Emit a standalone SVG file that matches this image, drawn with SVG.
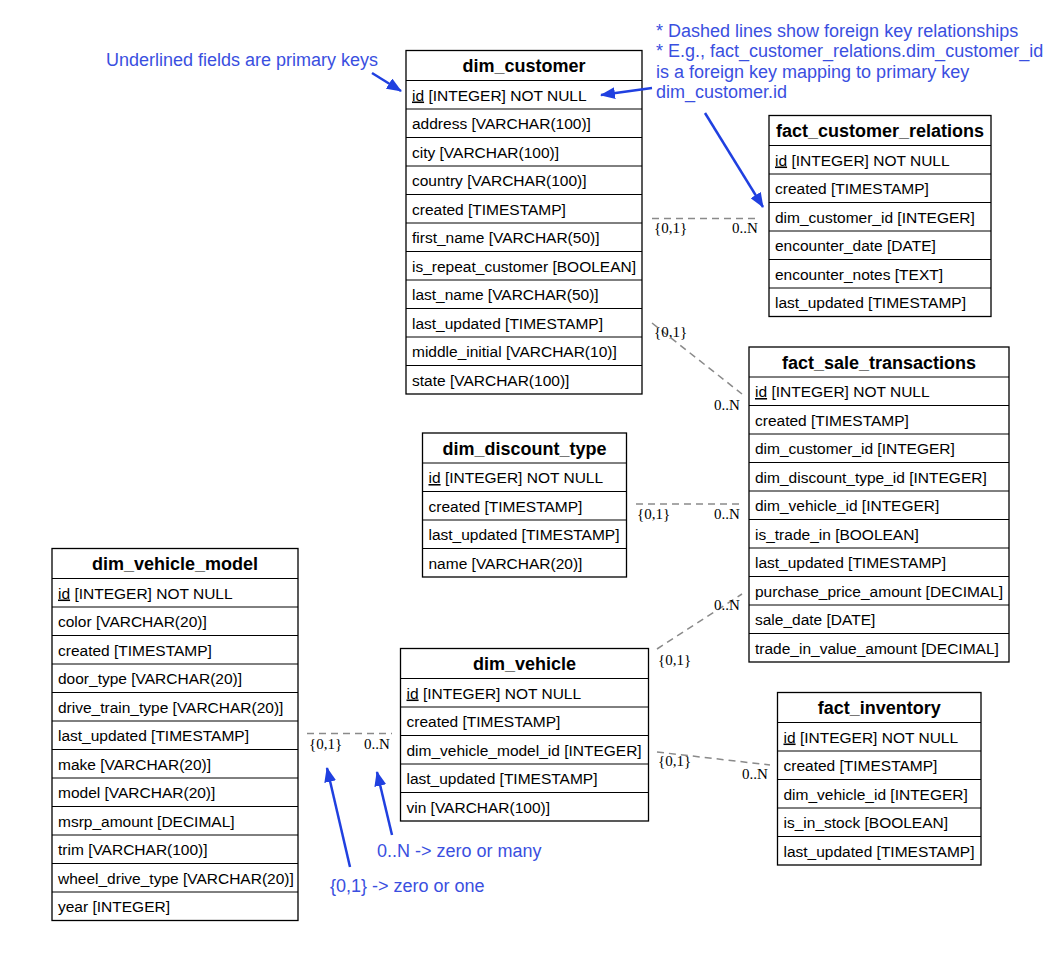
<svg xmlns="http://www.w3.org/2000/svg" width="1060" height="972" viewBox="0 0 1060 972">
<style>
.box{fill:#fff;stroke:#000;stroke-width:1.3}
.sep{stroke:#000;stroke-width:1}
.hdr{font-family:"Liberation Sans",Arial,sans-serif;font-size:18px;font-weight:bold;text-anchor:middle;fill:#000}
.row{font-family:"Liberation Sans",Arial,sans-serif;font-size:15.5px;fill:#000}
.pk{text-decoration:underline}
.fk{stroke:#8a8a8a;stroke-width:1.5;stroke-dasharray:7 5;fill:none}
.card{font-family:"Liberation Serif","Times New Roman",serif;font-size:15px;fill:#000}
.note{font-family:"Liberation Sans",Arial,sans-serif;font-size:18px;fill:#3a4fe0}
.arr{stroke:#2040e0;stroke-width:2.5;fill:none;marker-end:url(#ah)}
</style>
<defs>
<marker id="ah" markerUnits="userSpaceOnUse" markerWidth="16" markerHeight="12" refX="14" refY="6" orient="auto">
<path d="M0,0 L15,6 L0,12 Z" fill="#2040e0"/>
</marker>
</defs>
<rect width="1060" height="972" fill="#fff"/>

<g id="connectors">
<line class="fk" x1="652" y1="218.5" x2="757" y2="218.5"/>
<text class="card" x="654" y="233">{0,1}</text>
<text class="card" x="732" y="233">0..N</text>
<line class="fk" x1="652" y1="323" x2="742" y2="394"/>
<text class="card" x="654" y="337">{0,1}</text>
<text class="card" x="714" y="410">0..N</text>
<line class="fk" x1="636" y1="504" x2="741" y2="504"/>
<text class="card" x="637" y="519">{0,1}</text>
<text class="card" x="714" y="519">0..N</text>
<line class="fk" x1="657" y1="649" x2="742" y2="594"/>
<text class="card" x="658" y="665">{0,1}</text>
<text class="card" x="714" y="610">0..N</text>
<line class="fk" x1="657" y1="752" x2="770" y2="765"/>
<text class="card" x="658" y="766">{0,1}</text>
<text class="card" x="742" y="779">0..N</text>
<line class="fk" x1="307" y1="733.5" x2="392" y2="733.5"/>
<text class="card" x="309" y="749">{0,1}</text>
<text class="card" x="364" y="749">0..N</text>
</g>

<g id="dim_customer" transform="translate(406,50.5)">
<rect class="box" width="236" height="343.5"/>
<path class="sep" d="M0,30H236M0,58.5H236M0,87H236M0,115.5H236M0,144H236M0,172.5H236M0,201H236M0,229.5H236M0,258H236M0,286.5H236M0,315H236"/>
<text class="hdr" x="118" y="21.5">dim_customer</text>
<text class="row" x="6" y="50"><tspan class="pk">id</tspan> [INTEGER] NOT NULL</text>
<text class="row" x="6" y="78.5">address [VARCHAR(100)]</text>
<text class="row" x="6" y="107">city [VARCHAR(100)]</text>
<text class="row" x="6" y="135.5">country [VARCHAR(100)]</text>
<text class="row" x="6" y="164">created [TIMESTAMP]</text>
<text class="row" x="6" y="192.5">first_name [VARCHAR(50)]</text>
<text class="row" x="6" y="221">is_repeat_customer [BOOLEAN]</text>
<text class="row" x="6" y="249.5">last_name [VARCHAR(50)]</text>
<text class="row" x="6" y="278">last_updated [TIMESTAMP]</text>
<text class="row" x="6" y="306.5">middle_initial [VARCHAR(10)]</text>
<text class="row" x="6" y="335">state [VARCHAR(100)]</text>
</g>

<g id="fact_customer_relations" transform="translate(769,115.5)">
<rect class="box" width="222" height="201"/>
<path class="sep" d="M0,30H222M0,58.5H222M0,87H222M0,115.5H222M0,144H222M0,172.5H222"/>
<text class="hdr" x="111" y="21.5">fact_customer_relations</text>
<text class="row" x="6" y="50"><tspan class="pk">id</tspan> [INTEGER] NOT NULL</text>
<text class="row" x="6" y="78.5">created [TIMESTAMP]</text>
<text class="row" x="6" y="107">dim_customer_id [INTEGER]</text>
<text class="row" x="6" y="135.5">encounter_date [DATE]</text>
<text class="row" x="6" y="164">encounter_notes [TEXT]</text>
<text class="row" x="6" y="192.5">last_updated [TIMESTAMP]</text>
</g>

<g id="fact_sale_transactions" transform="translate(749,347)">
<rect class="box" width="260" height="315"/>
<path class="sep" d="M0,30H260M0,58.5H260M0,87H260M0,115.5H260M0,144H260M0,172.5H260M0,201H260M0,229.5H260M0,258H260M0,286.5H260"/>
<text class="hdr" x="130" y="21.5">fact_sale_transactions</text>
<text class="row" x="6" y="50"><tspan class="pk">id</tspan> [INTEGER] NOT NULL</text>
<text class="row" x="6" y="78.5">created [TIMESTAMP]</text>
<text class="row" x="6" y="107">dim_customer_id [INTEGER]</text>
<text class="row" x="6" y="135.5">dim_discount_type_id [INTEGER]</text>
<text class="row" x="6" y="164">dim_vehicle_id [INTEGER]</text>
<text class="row" x="6" y="192.5">is_trade_in [BOOLEAN]</text>
<text class="row" x="6" y="221">last_updated [TIMESTAMP]</text>
<text class="row" x="6" y="249.5">purchase_price_amount [DECIMAL]</text>
<text class="row" x="6" y="278">sale_date [DATE]</text>
<text class="row" x="6" y="306.5">trade_in_value_amount [DECIMAL]</text>
</g>

<g id="dim_discount_type" transform="translate(422.5,433)">
<rect class="box" width="204" height="144"/>
<path class="sep" d="M0,30H204M0,58.5H204M0,87H204M0,115.5H204"/>
<text class="hdr" x="102" y="21.5">dim_discount_type</text>
<text class="row" x="6" y="50"><tspan class="pk">id</tspan> [INTEGER] NOT NULL</text>
<text class="row" x="6" y="78.5">created [TIMESTAMP]</text>
<text class="row" x="6" y="107">last_updated [TIMESTAMP]</text>
<text class="row" x="6" y="135.5">name [VARCHAR(20)]</text>
</g>

<g id="dim_vehicle_model" transform="translate(52,548.5)">
<rect class="box" width="246" height="372"/>
<path class="sep" d="M0,30H246M0,58.5H246M0,87H246M0,115.5H246M0,144H246M0,172.5H246M0,201H246M0,229.5H246M0,258H246M0,286.5H246M0,315H246M0,343.5H246"/>
<text class="hdr" x="123" y="21.5">dim_vehicle_model</text>
<text class="row" x="6" y="50"><tspan class="pk">id</tspan> [INTEGER] NOT NULL</text>
<text class="row" x="6" y="78.5">color [VARCHAR(20)]</text>
<text class="row" x="6" y="107">created [TIMESTAMP]</text>
<text class="row" x="6" y="135.5">door_type [VARCHAR(20)]</text>
<text class="row" x="6" y="164">drive_train_type [VARCHAR(20)]</text>
<text class="row" x="6" y="192.5">last_updated [TIMESTAMP]</text>
<text class="row" x="6" y="221">make [VARCHAR(20)]</text>
<text class="row" x="6" y="249.5">model [VARCHAR(20)]</text>
<text class="row" x="6" y="278">msrp_amount [DECIMAL]</text>
<text class="row" x="6" y="306.5">trim [VARCHAR(100)]</text>
<text class="row" x="6" y="335">wheel_drive_type [VARCHAR(20)]</text>
<text class="row" x="6" y="363.5">year [INTEGER]</text>
</g>

<g id="dim_vehicle" transform="translate(400.5,648.5)">
<rect class="box" width="248" height="172.5"/>
<path class="sep" d="M0,30H248M0,58.5H248M0,87H248M0,115.5H248M0,144H248"/>
<text class="hdr" x="124" y="21.5">dim_vehicle</text>
<text class="row" x="6" y="50"><tspan class="pk">id</tspan> [INTEGER] NOT NULL</text>
<text class="row" x="6" y="78.5">created [TIMESTAMP]</text>
<text class="row" x="6" y="107">dim_vehicle_model_id [INTEGER]</text>
<text class="row" x="6" y="135.5">last_updated [TIMESTAMP]</text>
<text class="row" x="6" y="164">vin [VARCHAR(100)]</text>
</g>

<g id="fact_inventory" transform="translate(777.5,692.5)">
<rect class="box" width="203.5" height="172.5"/>
<path class="sep" d="M0,30H203.5M0,58.5H203.5M0,87H203.5M0,115.5H203.5M0,144H203.5"/>
<text class="hdr" x="101.75" y="21.5">fact_inventory</text>
<text class="row" x="6" y="50"><tspan class="pk">id</tspan> [INTEGER] NOT NULL</text>
<text class="row" x="6" y="78.5">created [TIMESTAMP]</text>
<text class="row" x="6" y="107">dim_vehicle_id [INTEGER]</text>
<text class="row" x="6" y="135.5">is_in_stock [BOOLEAN]</text>
<text class="row" x="6" y="164">last_updated [TIMESTAMP]</text>
</g>

<g id="annotations">
<text class="note" x="106" y="66">Underlined fields are primary keys</text>
<line class="arr" x1="372" y1="73" x2="401" y2="91"/>
<text class="note" x="656" y="37">* Dashed lines show foreign key relationships</text>
<text class="note" x="656" y="57.3">* E.g., fact_customer_relations.dim_customer_id</text>
<text class="note" x="656" y="77.6">is a foreign key mapping to primary key</text>
<text class="note" x="656" y="97.9">dim_customer.id</text>
<line class="arr" x1="652" y1="88" x2="601" y2="95"/>
<line class="arr" x1="705" y1="113" x2="763" y2="207"/>
<text class="note" x="377" y="857">0..N -&gt; zero or many</text>
<text class="note" x="330" y="892">{0,1} -&gt; zero or one</text>
<line class="arr" x1="392" y1="835" x2="377" y2="772"/>
<line class="arr" x1="350" y1="867" x2="327" y2="768"/>
</g>
</svg>
